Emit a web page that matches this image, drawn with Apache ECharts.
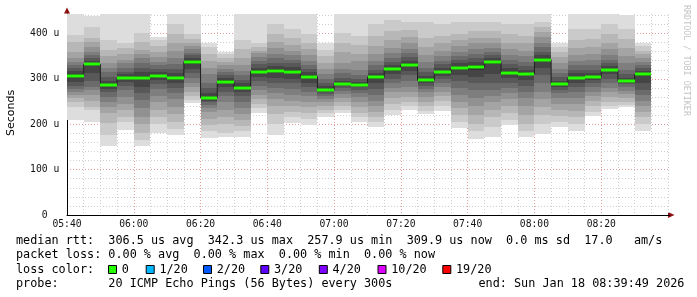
<!DOCTYPE html>
<html><head><meta charset="utf-8">
<script src="https://cdn.jsdelivr.net/npm/echarts@6/dist/echarts.min.js"></script>
<style>html,body{margin:0;padding:0;background:#fff}#c{width:697px;height:297px}</style>
</head><body><div id="c"></div>
<script>
// ---------------- data ----------------
const barStarts = ['05:40','05:45','05:50','05:55','06:00','06:05','06:10','06:15','06:20','06:25',
  '06:30','06:35','06:40','06:45','06:50','06:55','07:00','07:05','07:10','07:15',
  '07:20','07:25','07:30','07:35','07:40','07:45','07:50','07:55','08:00','08:05',
  '08:10','08:15','08:20','08:25','08:30'];
const medians = [306.6,332,286,301.5,303,306.6,301.5,337.5,257.9,294,
  281,316,318,316,305,276,289,287.5,303.7,321,
  331,297,315,323.5,326,337,314,311,342.3,288,
  302,304,320,296,309.9];
// 20 sorted ping times (us) per 5-minute step
const pings = [
  [210,239,250,258,265,272,278,284,293,303,310,318,324,331,338,345,360,382,397,470],
  [206,232,239,252,265,276,283,295,312,328,336,340,345,352,360,371,382,390,415,439],
  [151,177,202,224,239,250,260,270,278,284,288,296,305,315,325,335,350,364,386,460],
  [188,205,217,232,245,261,275,285,293,299,304,310,316,325,335,342,355,368,379,460],
  [151,165,180,200,217,235,254,268,282,299,307,315,324,335,345,355,364,382,401,460],
  [181,200,215,232,248,262,278,288,297,304,309,316,322,330,338,348,360,372,385,393],
  [177,190,205,222,238,255,268,280,290,298,305,312,322,332,345,362,380,400,420,460],
  [246,253,262,272,282,292,302,312,322,333,342,346,352,358,365,372,380,388,400,460],
  [169,185,198,212,226,235,242,248,252,256,260,268,280,292,310,325,340,355,370,379],
  [171,180,200,215,232,248,262,272,282,291,297,302,308,315,322,330,338,346,355,360],
  [173,185,196,210,222,235,250,262,270,278,284,290,298,308,318,330,345,365,385,460],
  [224,235,245,255,265,275,285,295,305,313,319,325,332,340,348,356,362,370,379,460],
  [177,200,222,240,255,268,280,292,302,314,321,328,336,345,355,368,382,400,420,460],
  [202,215,228,240,252,265,278,290,300,312,319,326,334,342,352,362,375,390,410,460],
  [199,212,225,238,250,262,272,282,292,301,308,315,322,330,340,352,365,380,400,460],
  [215,224,232,240,248,255,262,267,271,274,278,284,292,300,310,322,336,350,364,379],
  [224,232,240,250,258,266,274,280,285,287,291,296,303,312,322,335,360,380,401,460],
  [206,215,225,238,250,260,268,276,282,286,289,294,300,308,320,340,355,375,395,460],
  [195,205,215,228,240,252,265,278,290,300,307,314,320,330,340,355,372,395,420,460],
  [220,232,245,258,270,280,290,300,310,318,324,330,338,346,356,368,385,405,430,460],
  [232,240,250,260,270,282,295,308,318,328,334,340,348,356,366,378,392,408,425,460],
  [222,230,240,250,260,270,278,285,290,294,300,306,315,325,338,352,370,390,425,460],
  [230,240,252,262,272,282,292,300,306,312,318,324,332,340,350,362,378,395,420,460],
  [191,205,220,235,250,265,280,295,308,320,327,334,342,350,360,372,385,400,425,460],
  [167,185,200,220,240,258,275,290,305,320,330,338,346,355,365,378,390,405,425,460],
  [173,195,215,232,248,262,275,290,310,332,340,346,352,360,368,378,390,405,425,460],
  [199,210,225,240,255,268,280,292,302,311,317,324,332,342,352,365,380,398,420,460],
  [171,185,200,220,240,258,272,285,298,308,314,320,328,338,350,362,378,395,420,460],
  [179,200,220,238,255,272,290,308,325,340,346,352,360,370,380,392,404,415,425,460],
  [195,205,218,232,245,258,268,276,282,286,290,296,304,312,322,335,348,360,370,379],
  [186,200,215,230,245,258,270,282,292,299,305,312,320,330,340,352,368,385,410,460],
  [218,228,240,252,262,272,282,290,297,302,306,312,320,330,342,355,370,388,410,460],
  [233,240,250,260,270,280,290,300,310,318,322,328,334,342,352,365,380,398,420,460],
  [237,242,250,258,266,274,282,288,292,295,297,302,310,320,335,350,368,388,410,441],
  [186,200,215,228,240,252,264,276,290,306,313,318,324,330,338,346,355,362,372,379]
];
const xTickLabels = ['05:40','06:00','06:20','06:40','07:00','07:20','07:40','08:00','08:20'];
const yTickLabels = ['0','100 u','200 u','300 u','400 u'];
const lossLabels = ['0','1/20','2/20','3/20','4/20','10/20','19/20'];
const lossColors = ['#26ff00','#00b8ff','#0059ff','#5e00ff','#7e00ff','#dd00ff','#ff0000'];
const legendRtt = 'median rtt:  306.5 us avg  342.3 us max  257.9 us min  309.9 us now  0.0 ms sd  17.0   am/s';
const legendLoss = 'packet loss: 0.00 % avg  0.00 % max  0.00 % min  0.00 % now';
const legendColorTitle = 'loss color:';
const legendProbe = 'probe:       20 ICMP Echo Pings (56 Bytes) every 300s';
const legendEnd = 'end: Sun Jan 18 08:39:49 2026';
const yTitle = 'Seconds';
const watermark = 'RRDTOOL / TOBI OETIKER';

// ---------------- style ----------------
const smokeColors = ['#dddddd','#cacaca','#b7b7b7','#a4a4a4','#919191','#7e7e7e','#6b6b6b','#585858','#454545','#323232'];
const MONO = '"DejaVu Sans Mono", monospace';
const MAJOR = 'rgba(220,120,120,0.75)';
const MINOR = '#cfcfcf';
const T0 = 5*60+40;
function toMin(s){const [h,m]=s.split(':').map(Number);return h*60+m-T0;}
const STEP = 5;

const yMax = 443;
const yColors = [];
for (let i=0;i<=23;i++) yColors.push(i===23?'rgba(0,0,0,0)':(i%5===0?MAJOR:MINOR));
const xColors = [];
for (let i=0;i<=36;i++) xColors.push(i===36?MINOR:(i%4===0?MAJOR:MINOR));

const chart = echarts.init(document.getElementById('c'), null, {renderer:'canvas'});

function clipTo(params, shape){
  const cs = params.coordSys;
  return echarts.graphic.clipRectByRect(shape, {x:cs.x, y:cs.y, width:cs.width, height:cs.height});
}

const smokeData = barStarts.map((s,i)=>[toMin(s), i]);
const medianLineData = barStarts.map((s,i)=>[toMin(s), medians[i]]);
medianLineData.push([toMin(barStarts[barStarts.length-1])+STEP, medians[medians.length-1]]);

// legend graphics
const rowY = [240.8, 255.4, 269.8, 284.4];
const graphics = [];
function txt(x,y,s,extra){graphics.push(Object.assign({type:'text', x:x, y:y, silent:true,
  style:Object.assign({text:s, font:'11.8px '+MONO, fill:'#000', textVerticalAlign:'middle'}, extra||{})}));}
txt(16,rowY[0],legendRtt);
txt(16,rowY[1],legendLoss);
txt(16,rowY[2],legendColorTitle);
txt(16,rowY[3],legendProbe);
txt(478.5,rowY[3],legendEnd);
const boxX = [108,145.7,203,260.3,318.8,377.5,442.3];
lossLabels.forEach((l,i)=>{
  graphics.push({type:'rect', silent:true, shape:{x:boxX[i]+0.5,y:265.5,width:8,height:8},
    style:{fill:lossColors[i], stroke:'#000', lineWidth:1}});
  txt(boxX[i]+13.7, rowY[2], l);
});
graphics.push({type:'text', x:11, y:113, rotation:Math.PI/2, silent:true,
  style:{text:yTitle, font:'11px "DejaVu Sans", sans-serif', fill:'#000', textAlign:'center', textVerticalAlign:'middle'}});
graphics.push({type:'text', x:686.5, y:5, rotation:-Math.PI/2, silent:true,
  style:{text:watermark, font:'8.4px '+MONO, fill:'#c4c4c4', textAlign:'left', textVerticalAlign:'middle'}});
// axis arrows
graphics.push({type:'polygon', silent:true, shape:{points:[[668,212],[674.5,215],[668,218]]}, style:{fill:'#8c1010'}});
graphics.push({type:'polygon', silent:true, shape:{points:[[64,13.5],[67,7.5],[70,13.5]]}, style:{fill:'#8c1010'}});
graphics.push({type:'line', silent:true, shape:{x1:668,y1:215.5,x2:670,y2:215.5}, style:{stroke:'#000',lineWidth:1}});

const option = {
  backgroundColor:'#ffffff',
  animation:false,
  grid:{left:67, top:14, width:601, height:201, containLabel:false},
  xAxis:{type:'value', min:0, max:180, interval:5,
    axisLine:{show:true, onZero:false, lineStyle:{color:'#000', width:1}},
    axisTick:{show:false},
    axisLabel:{margin:4.5, color:'#111', fontFamily:MONO, fontSize:9.7,
      showMaxLabel:false,
      formatter:(v)=> (v%20===0 && v/20<xTickLabels.length) ? xTickLabels[v/20] : ''},
    splitLine:{show:true, lineStyle:{color:xColors, type:[1,2], width:1}}
  },
  yAxis:{type:'value', min:0, max:yMax, interval:20,
    axisLine:{show:true, onZero:false, lineStyle:{color:'#000', width:1}},
    axisTick:{show:false},
    axisLabel:{margin:22.3, align:'center', color:'#111', fontFamily:MONO, fontSize:9.7,
      showMaxLabel:false,
      formatter:(v)=> (v%100===0 && v/100<yTickLabels.length) ? yTickLabels[v/100] : ''},
    splitLine:{show:true, lineStyle:{color:yColors, type:[1,2], width:1}}
  },
  series:[
    {type:'custom', name:'smoke', z:2, data:smokeData, clip:true,
      renderItem:(params, api)=>{
        const t = api.value(0), i = api.value(1);
        const p = pings[i];
        const children = [];
        for (let k=0;k<10;k++){
          const a = api.coord([t, p[19-k]]);
          const b = api.coord([t+STEP, p[k]]);
          const x0 = Math.round(a[0]), x1 = Math.round(b[0]);
          const y0 = Math.round(a[1]), y1 = Math.round(b[1]);
          const shape = clipTo(params, {x:x0, y:y0, width:x1-x0, height:y1-y0});
          if (shape) children.push({type:'rect', shape:shape, style:{fill:smokeColors[k]}});
        }
        return {type:'group', children:children};
      }},
    {type:'line', name:'median', z:3, data:medianLineData, step:'end', symbol:'none',
      lineStyle:{color:'#202020', width:1}},
    {type:'custom', name:'loss0', z:4, data:smokeData,
      renderItem:(params, api)=>{
        const t = api.value(0), i = api.value(1);
        const a = api.coord([t, medians[i]]);
        const b = api.coord([t+STEP, medians[i]]);
        const x0 = Math.round(a[0]), x1 = Math.round(b[0]);
        const yc = Math.round(a[1]);
        return {type:'rect', shape:{x:x0, y:yc-1.5, width:x1-x0, height:3}, style:{fill:lossColors[0]}};
      }}
  ],
  graphic:graphics
};
chart.setOption(option);
</script>
</body></html>
